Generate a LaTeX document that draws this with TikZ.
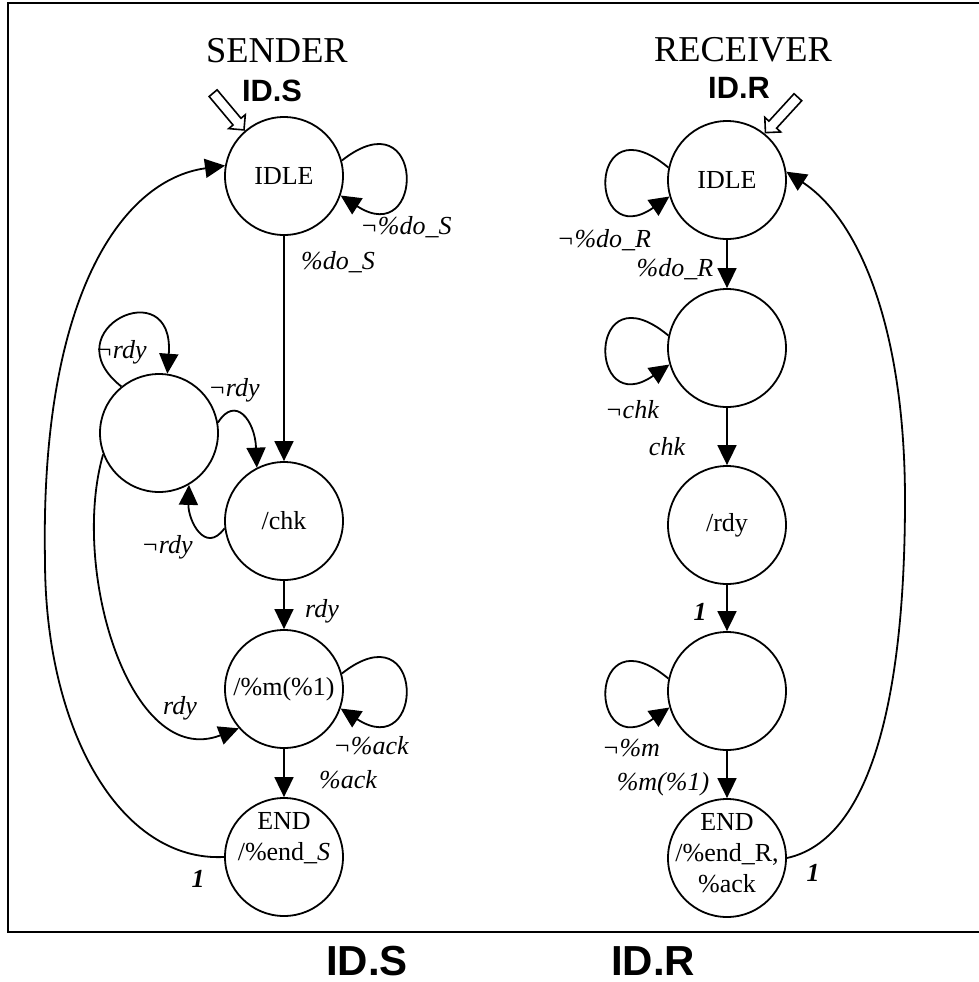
\documentclass[tikz,border=0pt]{standalone}
\usepackage{fontspec}
\setmainfont{Liberation Serif}
\setsansfont{Liberation Sans}
\usetikzlibrary{arrows.meta,shapes.arrows}
\newcommand\zerobox[1]{\raisebox{-1.5pt}[0pt][0pt]{\makebox[0pt]{\begin{tabular}{@{}c@{}}#1\end{tabular}}}}
\begin{document}
\begin{tikzpicture}[x=0.5pt,y=-0.5pt,
  st/.style={circle,draw,line width=0.9pt,minimum size=59pt,inner sep=0pt,font=\fontsize{13}{15.5}\selectfont,align=center},
  tr/.style={line width=0.9pt,-{Triangle[length=10pt,width=9.5pt]}},
  lb/.style={inner sep=0pt,font=\fontsize{13}{15}\selectfont\itshape},
  one/.style={inner sep=0pt,font=\fontsize{13}{15}\selectfont\bfseries\itshape},
  ttl/.style={inner sep=0pt,font=\fontsize{18.2}{20}\selectfont},
  idt/.style={inner sep=0pt,font=\fontsize{15.4}{17}\selectfont\sffamily\bfseries},
  idb/.style={inner sep=0pt,font=\fontsize{21}{23}\selectfont\sffamily\bfseries},
  init/.style={single arrow,draw,fill=white,line width=0.8pt,inner sep=2.2pt,single arrow head extend=2.8pt,minimum width=10pt,minimum height=24pt,anchor=tip}
]
\useasboundingbox (0,0) rectangle (979,982);
\clip (0,0) rectangle (979,982);
\fill[white] (0,0) rectangle (979,982);
\draw[line width=1.2pt] (995,3) -- (8,3) -- (8,932) -- (995,932);

% titles
\node[ttl] (tS) at (277,51) {SENDER};
\node[idt] (iS) at (272,91) {ID.S};
\node[ttl] (tR) at (743,50) {RECEIVER};
\node[idt] (iR) at (739,88) {ID.R};

% sender states
\node[st] (S1) at (284,176) {IDLE};
\node[st] (S2) at (159,433) {};
\node[st] (S3) at (284,521) {/chk};
\node[st] (S4) at (284,689) {/\%m(\%1)};
\node[st] (S5) at (284,857) {\zerobox{END\\/\%end\_\textit{S}\\ \mbox{}}};

% receiver states
\node[st] (R1) at (727,180) {IDLE};
\node[st] (R2) at (727,348) {};
\node[st] (R3) at (727,525) {/rdy};
\node[st] (R4) at (727,691) {};
\node[st] (R5) at (727,858) {\zerobox{END\\/\%end\_R,\\\%ack}};

% initial arrows
\node[init,rotate=-50] (initS) at (S1.131) {};
\node[init,rotate=227.5] (initR) at (R1.51) {};

% sender transitions
\draw[tr] (S1) -- (S3);
\draw[tr] (S1.15) .. controls +(84,-66) and +(85,55) .. (S1.-19);
\draw[tr] (S2.129) .. controls (50,330) and (175,270) .. (S2.82);
\draw[tr] (S2.10) .. controls (235,395) and (255,420) .. (S3.117);
\draw[tr] (S3.187) .. controls (205,555) and (188,520) .. (S2.-60);
\draw[tr] (S3) -- (S4);
\draw[tr] (S2.201) .. controls (70,570) and (130,770) .. (S4.221);
\draw[tr] (S4.15) .. controls +(84,-66) and +(85,55) .. (S4.-19);
\draw[tr] (S4) -- (S5);
\draw[tr] (S5.180) .. controls (120,862) and (45,730) .. (45,560) .. controls (40,300) and (120,180) .. (S1.170);

% receiver transitions
\draw[tr] (R1.168) .. controls +(-82,-68) and +(-82,57) .. (R1.196);
\draw[tr] (R1) -- (R2);
\draw[tr] (R2.168) .. controls +(-82,-68) and +(-82,57) .. (R2.196);
\draw[tr] (R2) -- (R3);
\draw[tr] (R3) -- (R4);
\draw[tr] (R4.168) .. controls +(-82,-68) and +(-82,57) .. (R4.196);
\draw[tr] (R4) -- (R5);
\draw[tr] (R5.0) .. controls (870,840) and (905,700) .. (905,500) .. controls (905,330) and (860,220) .. (R1.8);

% sender labels
\node[lb] (l1) at (338,262) {\%do\_S};
\node[lb] (l2) at (406,227) {¬\%do\_S};
\node[lb] (l3) at (121,352) {¬rdy};
\node[lb] (l4) at (234,390) {¬rdy};
\node[lb] (l5) at (167,547) {¬rdy};
\node[lb] (l6) at (322,611) {rdy};
\node[lb] (l7) at (180,708) {rdy};
\node[lb] (l8) at (371,746) {¬\%ack};
\node[lb] (l9) at (348,780) {\%ack};
\node[one] (l10) at (198,879) {1};

% receiver labels
\node[lb] (m1) at (604,240) {¬\%do\_R};
\node[lb] (m2) at (675,269) {\%do\_R};
\node[lb] (m3) at (632,410) {¬chk};
\node[lb] (m4) at (667,447) {chk};
\node[one] (m5) at (700,612) {1};
\node[lb] (m6) at (631,748) {¬\%m};
\node[lb] (m7) at (663,784) {\%m(\%1)};
\node[one] (m8) at (813,873) {1};

% bottom labels
\node[idb] (bS) at (367,961) {ID.S};
\node[idb] (bR) at (653,961) {ID.R};
\end{tikzpicture}
\end{document}
